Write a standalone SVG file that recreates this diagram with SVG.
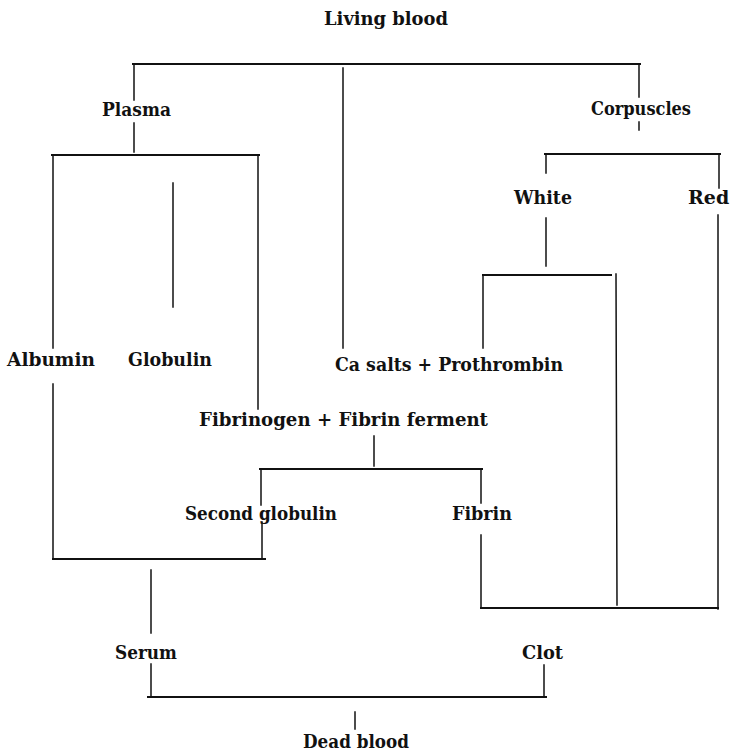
<svg xmlns="http://www.w3.org/2000/svg" width="731" height="753" viewBox="0 0 731 753">
<style>
text{font-family:"DejaVu Serif","Liberation Serif",serif;font-weight:bold;font-size:19px;fill:#111}
.c line{stroke:#111;stroke-width:1.5;stroke-linecap:square}
.c .h{stroke-width:2}
</style>
<rect width="731" height="753" fill="#fff"/>
<g class="c" id="connectors">
<line class="h" x1="133" y1="64" x2="640" y2="64"/>
<line x1="134" y1="64" x2="134" y2="100"/>
<line x1="134" y1="123" x2="134" y2="152"/>
<line x1="343" y1="68" x2="343" y2="348"/>
<line x1="639" y1="64" x2="639" y2="97"/>
<line x1="639" y1="122" x2="639" y2="130"/>
<line class="h" x1="52" y1="155" x2="259" y2="155"/>
<line x1="53" y1="155" x2="53" y2="348"/>
<line x1="258" y1="155" x2="258" y2="409"/>
<line x1="173" y1="183" x2="173" y2="307"/>
<line class="h" x1="545" y1="154" x2="720" y2="154"/>
<line x1="546" y1="154" x2="546" y2="173"/>
<line x1="719" y1="154" x2="719" y2="188"/>
<line x1="546" y1="218" x2="546" y2="266"/>
<line x1="718" y1="215" x2="718" y2="609"/>
<line class="h" x1="483" y1="275" x2="611" y2="275"/>
<line x1="483" y1="275" x2="483" y2="348"/>
<line x1="616" y1="274" x2="617" y2="605"/>
<line x1="374" y1="436" x2="374" y2="466"/>
<line class="h" x1="260" y1="469" x2="482" y2="469"/>
<line x1="261" y1="469" x2="261" y2="505"/>
<line x1="481" y1="469" x2="481" y2="503"/>
<line x1="262" y1="522" x2="262" y2="559"/>
<line x1="53" y1="384" x2="53" y2="559"/>
<line class="h" x1="53" y1="559" x2="265" y2="559"/>
<line x1="151" y1="570" x2="151" y2="633"/>
<line x1="151" y1="664" x2="151" y2="697"/>
<line x1="481" y1="535" x2="481" y2="608"/>
<line class="h" x1="481" y1="608" x2="718" y2="608"/>
<line class="h" x1="148" y1="697" x2="546" y2="697"/>
<line x1="544" y1="665" x2="544" y2="697"/>
<line x1="355" y1="712" x2="355" y2="729"/>
</g>
<g id="living-blood"><text x="324" y="25" textLength="124" lengthAdjust="spacingAndGlyphs">Living blood</text></g>
<g id="plasma"><text x="102" y="116" textLength="69" lengthAdjust="spacingAndGlyphs">Plasma</text></g>
<g id="corpuscles"><text x="591" y="115" textLength="100" lengthAdjust="spacingAndGlyphs">Corpuscles</text></g>
<g id="white"><text x="514" y="204" textLength="58" lengthAdjust="spacingAndGlyphs">White</text></g>
<g id="red"><text x="688" y="204">Red</text></g>
<g id="albumin"><text x="7" y="366" textLength="88" lengthAdjust="spacingAndGlyphs">Albumin</text></g>
<g id="globulin"><text x="128" y="366" textLength="84" lengthAdjust="spacingAndGlyphs">Globulin</text></g>
<g id="ca-prothrombin"><text x="335" y="371" textLength="228" lengthAdjust="spacingAndGlyphs">Ca salts + Prothrombin</text></g>
<g id="fibrinogen-ferment"><text x="199" y="426" textLength="289" lengthAdjust="spacingAndGlyphs">Fibrinogen + Fibrin ferment</text></g>
<g id="second-globulin"><text x="185" y="520" textLength="152" lengthAdjust="spacingAndGlyphs">Second globulin</text></g>
<g id="fibrin"><text x="452" y="520" textLength="60" lengthAdjust="spacingAndGlyphs">Fibrin</text></g>
<g id="serum"><text x="115" y="659" textLength="62" lengthAdjust="spacingAndGlyphs">Serum</text></g>
<g id="clot"><text x="522" y="659" textLength="41" lengthAdjust="spacingAndGlyphs">Clot</text></g>
<g id="dead-blood"><text x="303" y="748" textLength="106" lengthAdjust="spacingAndGlyphs">Dead blood</text></g>
</svg>
